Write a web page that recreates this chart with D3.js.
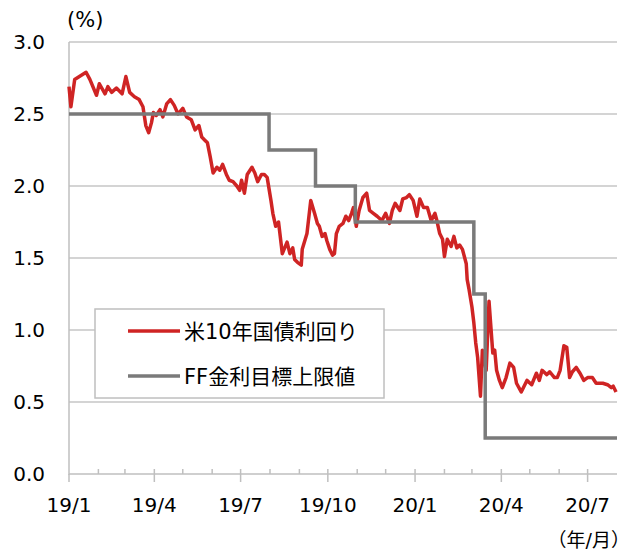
<!DOCTYPE html>
<html>
<head>
<meta charset="utf-8">
<script src="https://cdn.jsdelivr.net/npm/d3@7"></script>
<style>
  body { margin: 0; background: #fff; }
  svg text { font-family: "DejaVu Sans", "Noto Sans CJK JP", sans-serif; fill: #000; }
</style>
</head>
<body>
<div id="chart"></div>
<script>
// US 10y yield (%)
const yieldDates = [
  "2019-01-01","2019-01-03","2019-01-07","2019-01-19","2019-01-23","2019-01-30","2019-02-02","2019-02-08",
  "2019-02-11","2019-02-15","2019-02-20","2019-02-26","2019-03-02","2019-03-06","2019-03-11","2019-03-16",
  "2019-03-20","2019-03-23","2019-03-26","2019-03-29","2019-03-31","2019-04-03","2019-04-07","2019-04-10",
  "2019-04-14","2019-04-18","2019-04-22","2019-04-26","2019-05-01","2019-05-05","2019-05-10","2019-05-14",
  "2019-05-18","2019-05-21","2019-05-24","2019-05-27","2019-05-30","2019-06-02","2019-06-06","2019-06-09",
  "2019-06-12","2019-06-16","2019-06-19","2019-06-23","2019-06-27","2019-06-30","2019-07-02","2019-07-05",
  "2019-07-08","2019-07-13","2019-07-16","2019-07-19","2019-07-23","2019-07-26","2019-07-29","2019-08-02",
  "2019-08-04","2019-08-07","2019-08-10","2019-08-14","2019-08-19","2019-08-22","2019-08-25","2019-08-27",
  "2019-08-30","2019-09-03","2019-09-04","2019-09-09","2019-09-13","2019-09-17","2019-09-20","2019-09-22",
  "2019-09-25","2019-09-28","2019-09-30","2019-10-03","2019-10-06","2019-10-08","2019-10-10","2019-10-13",
  "2019-10-17","2019-10-20","2019-10-23","2019-10-26","2019-10-28","2019-10-31","2019-11-03","2019-11-07",
  "2019-11-11","2019-11-14","2019-11-18","2019-11-22","2019-11-27","2019-12-01","2019-12-05","2019-12-08",
  "2019-12-11","2019-12-16","2019-12-19","2019-12-23","2019-12-26","2019-12-30","2020-01-03","2020-01-06",
  "2020-01-10","2020-01-14","2020-01-18","2020-01-22","2020-01-24","2020-01-27","2020-01-30","2020-02-01",
  "2020-02-04","2020-02-08","2020-02-11","2020-02-14","2020-02-17","2020-02-20","2020-02-24","2020-02-25",
  "2020-02-27","2020-03-01","2020-03-03","2020-03-05","2020-03-07","2020-03-10","2020-03-12","2020-03-16",
  "2020-03-19","2020-03-23","2020-03-25","2020-03-27","2020-03-30","2020-04-02","2020-04-06","2020-04-10",
  "2020-04-14","2020-04-17","2020-04-22","2020-04-28","2020-05-03","2020-05-08","2020-05-11","2020-05-14",
  "2020-05-19","2020-05-22","2020-05-27","2020-05-30","2020-06-02","2020-06-06","2020-06-09","2020-06-12",
  "2020-06-15","2020-06-19","2020-06-23","2020-06-27","2020-07-01","2020-07-06","2020-07-10","2020-07-17",
  "2020-07-22","2020-07-26","2020-07-28","2020-07-31"
];
const yieldValues = [
  2.69,2.55,2.74,2.79,2.74,2.63,2.71,2.64,
  2.69,2.65,2.68,2.64,2.76,2.65,2.62,2.60,
  2.55,2.42,2.37,2.44,2.51,2.49,2.53,2.48,
  2.57,2.60,2.56,2.50,2.54,2.48,2.46,2.39,
  2.42,2.34,2.32,2.30,2.20,2.09,2.13,2.11,
  2.15,2.08,2.04,2.03,2.00,1.97,2.04,1.95,
  2.08,2.13,2.09,2.03,2.08,2.08,2.06,1.90,
  1.81,1.72,1.75,1.53,1.61,1.53,1.57,1.49,
  1.47,1.45,1.56,1.67,1.90,1.81,1.74,1.72,
  1.65,1.67,1.62,1.56,1.52,1.53,1.67,1.72,
  1.74,1.79,1.76,1.81,1.85,1.72,1.83,1.92,
  1.95,1.83,1.81,1.79,1.76,1.81,1.74,1.83,
  1.88,1.83,1.91,1.92,1.94,1.90,1.79,1.91,
  1.85,1.85,1.76,1.81,1.76,1.67,1.63,1.51,
  1.63,1.58,1.65,1.57,1.59,1.56,1.46,1.35,
  1.28,1.16,1.05,0.91,0.81,0.54,0.86,0.72,
  1.20,0.84,0.86,0.72,0.65,0.60,0.67,0.77,
  0.74,0.63,0.57,0.65,0.62,0.70,0.65,0.72,
  0.69,0.71,0.67,0.67,0.72,0.89,0.88,0.67,
  0.71,0.74,0.70,0.65,0.67,0.67,0.63,0.63,
  0.62,0.60,0.61,0.57
];

// FF rate target upper bound (%)
const ffDates = ["2019-01-01","2019-07-31","2019-09-18","2019-10-30","2020-03-03","2020-03-15","2020-08-01"];
const ffValues = [2.50, 2.25, 2.00, 1.75, 1.25, 0.25, 0.25];

const yTicks = [0, 0.5, 1.0, 1.5, 2.0, 2.5, 3.0];
const xLabels = ["19/1","19/4","19/7","19/10","20/1","20/4","20/7"];
const seriesNames = ["米10年国債利回り", "FF金利目標上限値"];
const seriesColors = ["#cf2424", "#7a7a7a"];

const parse = d3.timeParse("%Y-%m-%d");
const W = 635, H = 550;
const plotLeft = 69, plotRight = 617, plotTop = 42, plotBottom = 474;

const svg = d3.select("#chart").append("svg")
  .attr("width", W).attr("height", H);

const x = d3.scaleTime()
  .domain([parse("2019-01-01"), parse("2020-08-01")])
  .range([plotLeft, plotRight]);
const y = d3.scaleLinear().domain([0, 3]).range([plotBottom, plotTop]);

// gridlines
svg.append("g")
  .selectAll("line")
  .data(yTicks.filter(d => d > 0))
  .join("line")
  .attr("x1", plotLeft).attr("x2", plotRight)
  .attr("y1", d => y(d)).attr("y2", d => y(d))
  .attr("stroke", "#c6c6c6").attr("stroke-width", 1.5);

// y labels
svg.append("g")
  .selectAll("text")
  .data(yTicks)
  .join("text")
  .attr("x", 45)
  .attr("y", d => y(d))
  .attr("dy", "0.36em")
  .attr("text-anchor", "end")
  .attr("font-size", "20px")
  .text(d => d.toFixed(1));

svg.append("text")
  .attr("x", 67).attr("y", 27)
  .attr("font-size", "21px")
  .text("(%)");

// axes lines
svg.append("line")
  .attr("x1", plotLeft).attr("x2", plotLeft).attr("y1", plotTop).attr("y2", plotBottom + 1)
  .attr("stroke", "#bfbfbf").attr("stroke-width", 1.5);
svg.append("line")
  .attr("x1", plotLeft).attr("x2", plotRight).attr("y1", plotBottom).attr("y2", plotBottom)
  .attr("stroke", "#bfbfbf").attr("stroke-width", 1.5);

// month ticks: minor inside, quarters cross the axis
const months = d3.timeMonth.range(parse("2019-02-01"), parse("2020-08-01"));
svg.append("g")
  .selectAll("line")
  .data(months)
  .join("line")
  .attr("x1", d => x(d)).attr("x2", d => x(d))
  .attr("y1", plotBottom - 5)
  .attr("y2", d => d.getMonth() % 3 === 0 ? plotBottom + 8 : plotBottom)
  .attr("stroke", "#bfbfbf").attr("stroke-width", 1.5);

const quarters = d3.timeMonth.every(3).range(parse("2019-01-01"), parse("2020-08-01"));
svg.append("line")
  .attr("x1", plotLeft).attr("x2", plotLeft).attr("y1", plotBottom).attr("y2", plotBottom + 8)
  .attr("stroke", "#bfbfbf").attr("stroke-width", 1.5);

svg.append("g")
  .selectAll("text")
  .data(quarters)
  .join("text")
  .attr("x", d => x(d))
  .attr("y", 512)
  .attr("text-anchor", "middle")
  .attr("font-size", "20px")
  .text((d, i) => xLabels[i]);

svg.append("text")
  .attr("x", 630).attr("y", 547)
  .attr("text-anchor", "end")
  .attr("font-size", "19px")
  .text("（年/月）");

// series
const yieldData = yieldDates.map((d, i) => ({ date: parse(d), value: yieldValues[i] }));
const ffData = ffDates.map((d, i) => ({ date: parse(d), value: ffValues[i] }));

svg.append("path")
  .datum(yieldData)
  .attr("fill", "none")
  .attr("stroke", seriesColors[0])
  .attr("stroke-width", 3.5)
  .attr("stroke-linejoin", "round")
  .attr("d", d3.line().x(d => x(d.date)).y(d => y(d.value)));

svg.append("path")
  .datum(ffData)
  .attr("fill", "none")
  .attr("stroke", seriesColors[1])
  .attr("stroke-width", 3.5)
  .attr("d", d3.line().curve(d3.curveStepAfter).x(d => x(d.date)).y(d => y(d.value)));

// legend
const lg = svg.append("g");
lg.append("rect")
  .attr("x", 95).attr("y", 309).attr("width", 289).attr("height", 89)
  .attr("fill", "#fff").attr("stroke", "#bfbfbf").attr("stroke-width", 1.5);
seriesNames.forEach((name, i) => {
  const cy = 331 + i * 45;
  lg.append("line")
    .attr("x1", 128).attr("x2", 180).attr("y1", cy).attr("y2", cy)
    .attr("stroke", seriesColors[i]).attr("stroke-width", 3.5);
  lg.append("text")
    .attr("x", 184).attr("y", cy)
    .attr("dy", "0.36em")
    .attr("font-size", "21px")
    .attr("fill", "#404040")
    .text(name);
});
</script>
</body>
</html>
